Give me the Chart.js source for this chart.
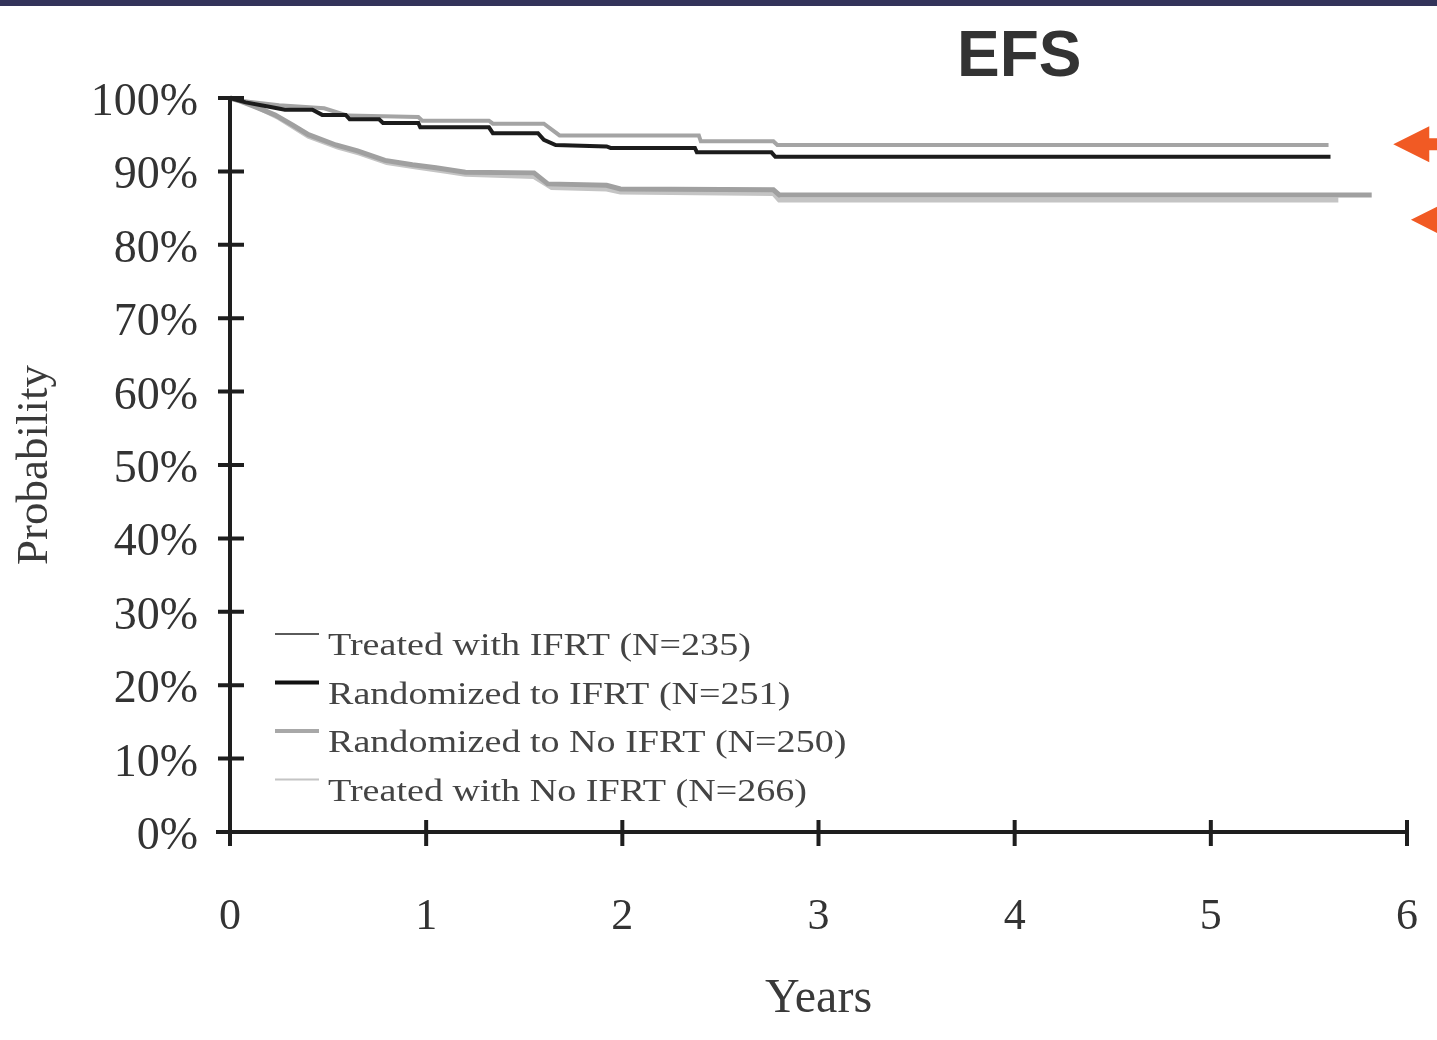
<!DOCTYPE html>
<html>
<head>
<meta charset="utf-8">
<title>EFS</title>
<script src="https://cdn.jsdelivr.net/npm/chart.js@4.4.0/dist/chart.umd.min.js"></script>
<style>
  html, body { margin: 0; padding: 0; background: #fff; }
  #wrap { position: relative; width: 1437px; height: 1040px; overflow: hidden; background: #fff; }
  #topbar { position: absolute; left: 0; top: 0; width: 100%; height: 6px; background: #33335a; }
  #title { position: absolute; left: 957px; top: 22px; font: bold 64px "Liberation Sans", Arial, sans-serif; line-height: 1; color: #333; }
  #kmChart { position: absolute; left: 0; top: 0; }
</style>
</head>
<body>
<div id="wrap">
  <canvas id="kmChart" width="1437" height="1040"></canvas>
  <div id="topbar"></div>
  <div id="title">EFS</div>
</div>
<script>
// Tick labels
const yearTicks = ['0', '1', '2', '3', '4', '5', '6'];
const pctTicks = ['0%', '10%', '20%', '30%', '40%', '50%', '60%', '70%', '80%', '90%', '100%'];

// Series labels
const seriesLabels = [
    'Treated with IFRT (N=235)',
    'Randomized to IFRT (N=251)',
    'Randomized to No IFRT (N=250)',
    'Treated with No IFRT (N=266)'
];

// Curves (years, % event-free)
const treatedIfrtYears = [0, 0.06, 0.25, 0.48, 0.6, 0.96, 0.98, 1.32, 1.34, 1.6, 1.68, 2.39, 2.4, 2.77, 2.79, 5.6];
const treatedIfrtPct   = [100, 99.6, 99.0, 98.6, 97.6, 97.4, 96.9, 96.9, 96.5, 96.5, 94.9, 94.9, 94.1, 94.1, 93.6, 93.6];

const randIfrtYears = [0, 0.08, 0.2, 0.28, 0.42, 0.47, 0.59, 0.61, 0.76, 0.78, 0.96, 0.97, 1.32, 1.34, 1.57, 1.6, 1.66, 1.92, 1.94, 2.37, 2.38, 2.76, 2.78, 5.61];
const randIfrtPct   = [100, 99.4, 98.8, 98.4, 98.4, 97.7, 97.7, 97.1, 97.1, 96.6, 96.6, 96.0, 96.0, 95.2, 95.2, 94.3, 93.6, 93.4, 93.2, 93.2, 92.6, 92.6, 92.0, 92.0];

const randNoIfrtYears = [0, 0.05, 0.12, 0.23, 0.32, 0.4, 0.54, 0.65, 0.79, 0.93, 1.05, 1.2, 1.55, 1.62, 1.92, 1.99, 2.77, 2.8, 5.82];
const randNoIfrtPct   = [100, 99.6, 98.9, 97.7, 96.3, 95.0, 93.6, 92.8, 91.5, 90.9, 90.5, 89.9, 89.8, 88.3, 88.1, 87.6, 87.5, 86.8, 86.8];

const treatedNoIfrtYears = [0, 0.1, 0.25, 0.4, 0.55, 0.66, 0.8, 0.95, 1.1, 1.2, 1.55, 1.64, 1.92, 1.99, 2.77, 2.8, 5.65];
const treatedNoIfrtPct   = [100, 99.3, 97.3, 94.8, 93.3, 92.5, 91.2, 90.6, 90.0, 89.6, 89.3, 87.8, 87.6, 87.2, 87.0, 86.1, 86.1];

const serifFont = '"Liberation Serif", "Times New Roman", serif';

// Helper: zip x/y arrays into points
function toPoints(xs, ys) {
    return xs.map((x, i) => ({ x: x, y: ys[i] }));
}

// Axis lines and crossing tick marks
const kmAxes = {
    id: 'kmAxes',
    afterDatasetsDraw(chart) {
        const { ctx, chartArea: a, scales: { x, y } } = chart;
        const y0 = y.getPixelForValue(0);
        ctx.save();
        ctx.strokeStyle = '#1e1e1e';
        ctx.lineWidth = 4;
        ctx.beginPath();
        ctx.moveTo(a.left, y.getPixelForValue(100));
        ctx.lineTo(a.left, y0 + 14);
        ctx.moveTo(a.left - 14, y0);
        ctx.lineTo(x.getPixelForValue(6) + 2, y0);
        y.ticks.forEach(t => {
            const py = y.getPixelForValue(t.value);
            ctx.moveTo(a.left - 12, py);
            ctx.lineTo(a.left + 14, py);
        });
        x.ticks.forEach(t => {
            const px = x.getPixelForValue(t.value);
            ctx.moveTo(px, y0 - 12);
            ctx.lineTo(px, y0 + 14);
        });
        ctx.stroke();
        ctx.restore();
    }
};

// Legend drawn inside the plot, bottom left
const insideLegend = {
    id: 'insideLegend',
    afterDraw(chart) {
        const { ctx, chartArea: a } = chart;
        ctx.save();
        chart.data.datasets.forEach((ds, i) => {
            const rowY = a.top + 549 + i * 48.5;
            ctx.strokeStyle = ds.legendColor;
            ctx.lineWidth = ds.legendWidth;
            ctx.beginPath();
            ctx.moveTo(a.left + 45, rowY - 13);
            ctx.lineTo(a.left + 89, rowY - 13);
            ctx.stroke();

            ctx.save();
            ctx.translate(a.left + 98, rowY);
            ctx.scale(1.19, 1);
            ctx.fillStyle = '#444';
            ctx.font = '32px ' + serifFont;
            ctx.textBaseline = 'middle';
            ctx.fillText(ds.label, 0, 0);
            ctx.restore();
        });
        ctx.restore();
    }
};

// Orange pointer arrows at the right edge
const pointerArrows = {
    id: 'pointerArrows',
    afterDraw(chart) {
        const { ctx, scales: { x, y } } = chart;
        const arrows = [
            { tx: x.getPixelForValue(5.93), ty: y.getPixelForValue(93.7), len: 36, half: 18 },
            { tx: x.getPixelForValue(6.02), ty: y.getPixelForValue(83.4), len: 36, half: 18 }
        ];
        ctx.save();
        ctx.fillStyle = '#f15a24';
        arrows.forEach(ar => {
            ctx.beginPath();
            ctx.moveTo(ar.tx, ar.ty);
            ctx.lineTo(ar.tx + ar.len, ar.ty - ar.half);
            ctx.lineTo(ar.tx + ar.len, ar.ty - 6);
            ctx.lineTo(ar.tx + 80, ar.ty - 6);
            ctx.lineTo(ar.tx + 80, ar.ty + 6);
            ctx.lineTo(ar.tx + ar.len, ar.ty + 6);
            ctx.lineTo(ar.tx + ar.len, ar.ty + ar.half);
            ctx.closePath();
            ctx.fill();
        });
        ctx.restore();
    }
};

const ctx = document.getElementById('kmChart');
new Chart(ctx, {
    type: 'scatter',
    data: {
        datasets: [
            {
                label: seriesLabels[0],
                data: toPoints(treatedIfrtYears, treatedIfrtPct),
                borderColor: '#a4a4a4',
                borderWidth: 4,
                legendColor: '#5a5a5a',
                legendWidth: 2,
                order: 1
            },
            {
                label: seriesLabels[1],
                data: toPoints(randIfrtYears, randIfrtPct),
                borderColor: '#1c1c1c',
                borderWidth: 4,
                legendColor: '#111',
                legendWidth: 4,
                order: 0
            },
            {
                label: seriesLabels[2],
                data: toPoints(randNoIfrtYears, randNoIfrtPct),
                borderColor: '#a0a0a0',
                borderWidth: 5,
                legendColor: '#a8a8a8',
                legendWidth: 4,
                order: 2
            },
            {
                label: seriesLabels[3],
                data: toPoints(treatedNoIfrtYears, treatedNoIfrtPct),
                borderColor: '#c4c4c4',
                borderWidth: 5,
                legendColor: '#c4c4c4',
                legendWidth: 2,
                order: 3
            }
        ]
    },
    options: {
        responsive: false,
        animation: false,
        showLine: true,
        clip: false,
        elements: {
            point: { radius: 0, hoverRadius: 0 },
            line: { tension: 0, fill: false, borderJoinStyle: 'miter' }
        },
        layout: {
            padding: { left: 0, top: 98, right: 30, bottom: 0 }
        },
        plugins: {
            legend: { display: false },
            tooltip: { enabled: false }
        },
        scales: {
            x: {
                type: 'linear',
                min: 0,
                max: 6,
                grid: { display: false, drawTicks: true, tickLength: 52 },
                border: { display: false },
                afterFit: scale => { scale.height = 208; },
                ticks: {
                    stepSize: 1,
                    padding: 7,
                    color: '#333',
                    font: { family: serifFont, size: 44 },
                    callback: (v, i) => yearTicks[i]
                },
                title: {
                    display: true,
                    text: 'Years',
                    color: '#3a3a3a',
                    font: { family: serifFont, size: 48 },
                    padding: { top: 0, bottom: 12 }
                }
            },
            y: {
                min: 0,
                max: 100,
                grid: { display: false, drawTicks: false },
                border: { display: false },
                afterFit: scale => { scale.width = 230; },
                ticks: {
                    stepSize: 10,
                    padding: 32,
                    labelOffset: 5,
                    color: '#333',
                    font: { family: serifFont, size: 46 },
                    callback: (v, i) => pctTicks[i]
                },
                title: {
                    display: true,
                    text: 'Probability',
                    color: '#3a3a3a',
                    font: { family: serifFont, size: 45 },
                    padding: { top: 8, bottom: 0 }
                }
            }
        }
    },
    plugins: [kmAxes, insideLegend, pointerArrows]
});
</script>
</body>
</html>
